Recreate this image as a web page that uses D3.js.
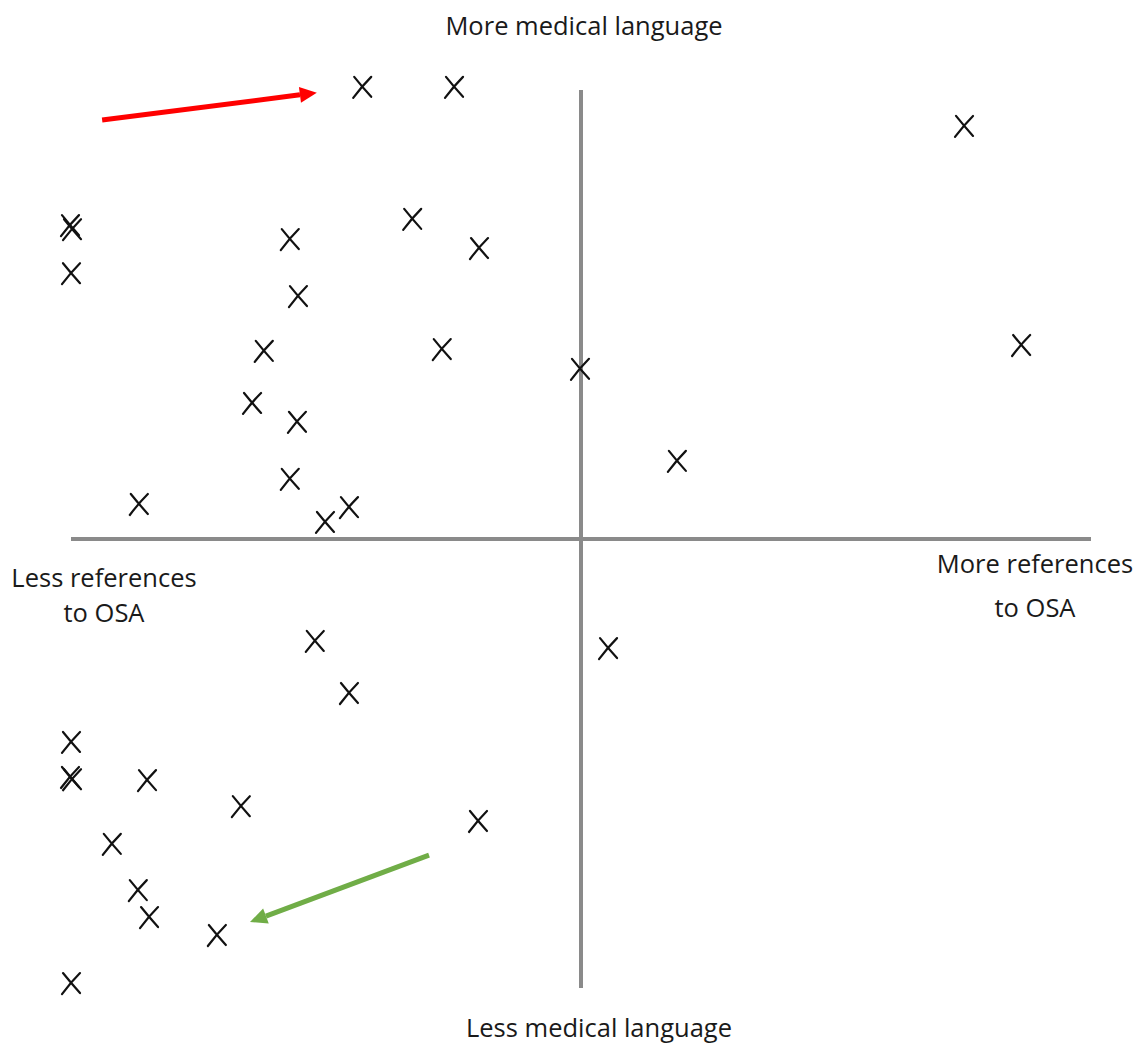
<!DOCTYPE html>
<html>
<head>
<meta charset="utf-8">
<script src="https://cdn.jsdelivr.net/npm/d3@7"></script>
<style>
  html, body { margin: 0; padding: 0; background: #fff; }
  svg { display: block; }
  text { font-family: "Open Sans", Lato, sans-serif; fill: #1a1a1a; }
</style>
</head>
<body>
<div id="chart"></div>
<script>
// Each point: x = references to OSA (less -> more), y = medical language (less -> more)
const pointX = [-4.29, -2.49, 7.51, -10.02, -9.98, -10.0, -5.71, -3.31, -2.0, -5.55,
                -6.22, -2.73, -0.02, 8.63, -6.45, -5.57, 1.88, -5.71, -8.67, -4.55,
                -5.02, -5.22, 0.53, -4.55, -10.0, -10.02, -9.98, -8.51, -6.67, -2.02,
                -9.2, -8.69, -8.47, -7.14, -10.0];
const pointY = [10.07, 10.07, 9.2, 6.99, 6.9, 5.92, 6.68, 7.13, 6.48, 5.41,
                4.19, 4.23, 3.79, 4.32, 3.03, 2.61, 1.74, 1.34, 0.78, 0.71,
                0.38, -2.27, -2.43, -3.43, -4.52, -5.3, -5.35, -5.37, -5.95, -6.28,
                -6.79, -7.82, -8.42, -8.82, -9.89];
const arrowNames = ["red", "green"];
const arrowFrom = [[-9.39, 9.33], [-2.98, -7.04]];
const arrowTo = [[-5.18, 9.94], [-6.49, -8.53]];
const axisLabels = {
  top: "More medical language",
  bottom: "Less medical language",
  left: ["Less references", "to OSA"],
  right: ["More references", "to OSA"]
};

const W = 1140, H = 1047;
const svg = d3.select("#chart").append("svg").attr("width", W).attr("height", H);

const x = d3.scaleLinear().domain([-10, 10]).range([71, 1091]);
const y = d3.scaleLinear().domain([-10, 10]).range([988, 90]);

// quadrant axes
svg.append("line")
  .attr("x1", x(-10)).attr("x2", x(10)).attr("y1", y(0)).attr("y2", y(0))
  .attr("stroke", "#8a8a8a").attr("stroke-width", 4);
svg.append("line")
  .attr("x1", x(0)).attr("x2", x(0)).attr("y1", y(-10)).attr("y2", y(10))
  .attr("stroke", "#8a8a8a").attr("stroke-width", 4);

// labels
const fs = 25.5;
svg.append("text").attr("x", 584).attr("y", 35).attr("text-anchor", "middle")
  .attr("font-size", fs).text(axisLabels.top);
svg.append("text").attr("x", 599).attr("y", 1037).attr("text-anchor", "middle")
  .attr("font-size", fs).text(axisLabels.bottom);
axisLabels.left.forEach((t, i) => {
  svg.append("text").attr("x", 104).attr("y", 587 + i * 35).attr("text-anchor", "middle")
    .attr("font-size", fs).text(t);
});
axisLabels.right.forEach((t, i) => {
  svg.append("text").attr("x", 1035).attr("y", 573 + i * 44).attr("text-anchor", "middle")
    .attr("font-size", fs).text(t);
});

// markers
const pts = pointX.map((v, i) => ({x: v, y: pointY[i]}));
svg.append("g").selectAll("path.mark").data(pts).join("path")
  .attr("class", "mark")
  .attr("transform", d => `translate(${x(d.x)},${y(d.y)})`)
  .attr("d", "M-8,-10 Q0,0 9,10 M9,-10 Q0,-1 -9,11")
  .attr("fill", "none").attr("stroke", "#111").attr("stroke-width", 2.2)
  .attr("stroke-linecap", "round");

// arrows
const arrowColor = {red: "#ff0000", green: "#70ad47"};
arrowNames.forEach((name, i) => {
  const x1 = x(arrowFrom[i][0]), y1 = y(arrowFrom[i][1]);
  const x2 = x(arrowTo[i][0]), y2 = y(arrowTo[i][1]);
  const ang = Math.atan2(y2 - y1, x2 - x1);
  const hl = 17, hw = 8;
  const bx = x2 - hl * Math.cos(ang), by = y2 - hl * Math.sin(ang);
  svg.append("line").attr("x1", x1).attr("y1", y1).attr("x2", bx).attr("y2", by)
    .attr("stroke", arrowColor[name]).attr("stroke-width", 5);
  const px = -Math.sin(ang) * hw, py = Math.cos(ang) * hw;
  svg.append("path")
    .attr("d", `M${x2},${y2} L${bx + px},${by + py} L${bx - px},${by - py} Z`)
    .attr("fill", arrowColor[name]);
});
</script>
</body>
</html>
